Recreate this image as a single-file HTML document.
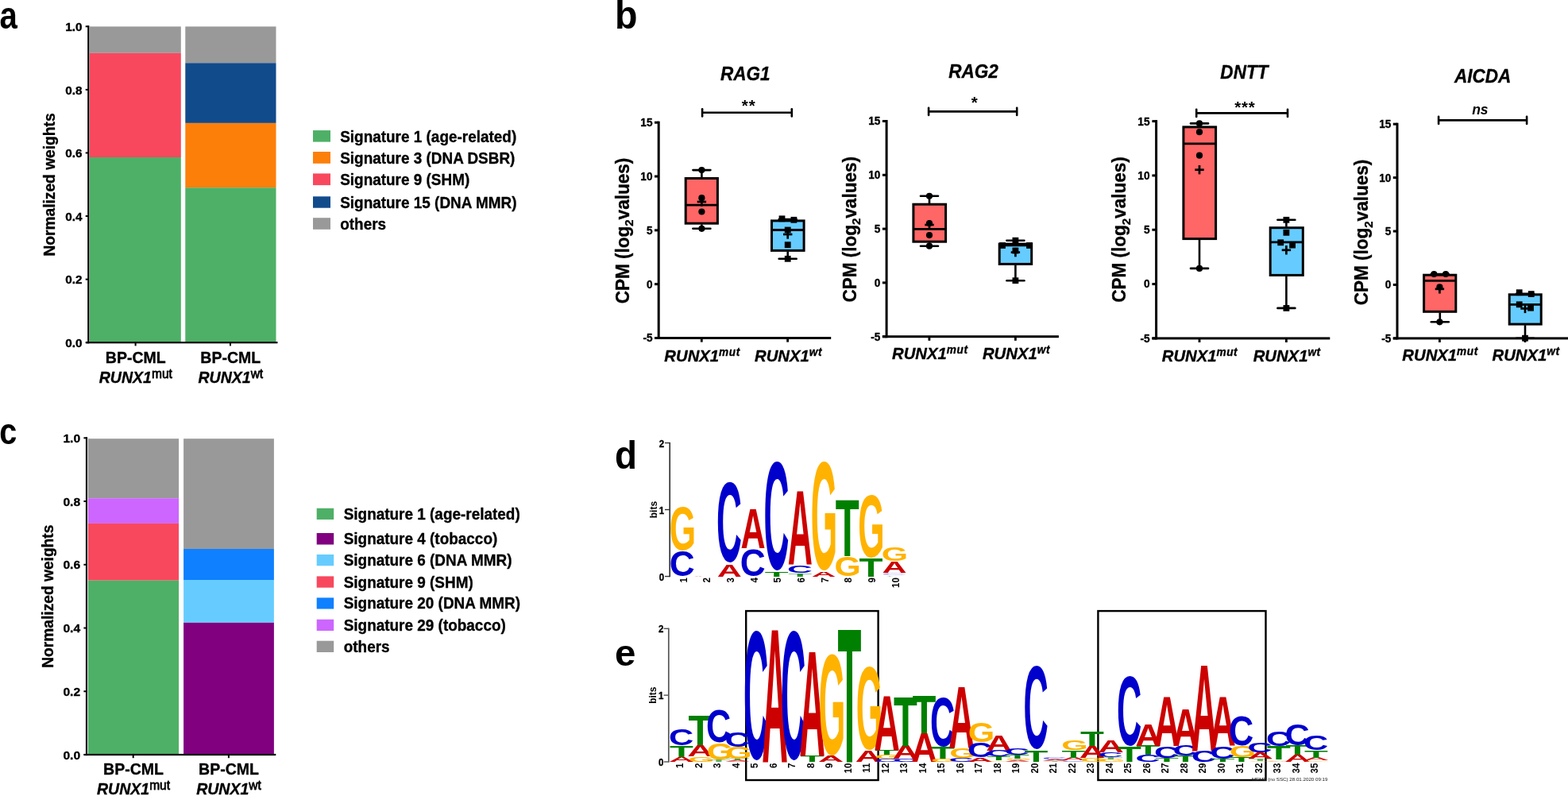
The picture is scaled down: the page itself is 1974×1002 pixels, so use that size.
<!DOCTYPE html>
<html lang="en"><head><meta charset="utf-8"><title>Figure</title>
<style>
html,body{margin:0;padding:0;background:#fff;}
body{width:1974px;height:1002px;overflow:hidden;}
svg{display:block;position:absolute;left:0;top:0;}
text{font-family:"Liberation Sans",sans-serif;}
text.t{stroke:#000;stroke-width:0.35px;stroke-linejoin:round;}
</style></head><body>
<svg width="1974" height="1002" viewBox="0 0 1974 1002">
<rect x="112.9" y="33.4" width="114.9" height="33.4" fill="#999999"/>
<rect x="112.9" y="66.8" width="114.9" height="131.2" fill="#f8485e"/>
<rect x="112.9" y="198" width="114.9" height="232.4" fill="#4eb066"/>
<rect x="233.3" y="33.4" width="114.2" height="45.9" fill="#999999"/>
<rect x="233.3" y="79.3" width="114.2" height="75.6" fill="#114b8c"/>
<rect x="233.3" y="154.9" width="114.2" height="81.3" fill="#fc7f0a"/>
<rect x="233.3" y="236.2" width="114.2" height="194.2" fill="#4eb066"/>
<rect x="110.2" y="32.2" width="2.2" height="400.1" fill="#000"/>
<rect x="108" y="430.1" width="241.5" height="2.2" fill="#000"/>
<rect x="107.7" y="430.2" width="3.6" height="2" fill="#000"/>
<text class="t" transform="translate(103.5 436.9) scale(1.04 1)" font-size="14.71" text-anchor="end" font-weight="bold" font-style="normal" fill="#000">0.0</text>
<rect x="107.7" y="350.62" width="3.6" height="2" fill="#000"/>
<text class="t" transform="translate(103.5 357.32) scale(1.04 1)" font-size="14.71" text-anchor="end" font-weight="bold" font-style="normal" fill="#000">0.2</text>
<rect x="107.7" y="271.04" width="3.6" height="2" fill="#000"/>
<text class="t" transform="translate(103.5 277.74) scale(1.04 1)" font-size="14.71" text-anchor="end" font-weight="bold" font-style="normal" fill="#000">0.4</text>
<rect x="107.7" y="191.46" width="3.6" height="2" fill="#000"/>
<text class="t" transform="translate(103.5 198.16) scale(1.04 1)" font-size="14.71" text-anchor="end" font-weight="bold" font-style="normal" fill="#000">0.6</text>
<rect x="107.7" y="111.88" width="3.6" height="2" fill="#000"/>
<text class="t" transform="translate(103.5 118.58) scale(1.04 1)" font-size="14.71" text-anchor="end" font-weight="bold" font-style="normal" fill="#000">0.8</text>
<rect x="107.7" y="32.3" width="3.6" height="2" fill="#000"/>
<text class="t" transform="translate(103.5 39) scale(1.04 1)" font-size="14.71" text-anchor="end" font-weight="bold" font-style="normal" fill="#000">1.0</text>
<rect x="169.6" y="431.2" width="2" height="4.2" fill="#000"/>
<rect x="289" y="431.2" width="2" height="4.2" fill="#000"/>
<text class="t" transform="translate(170.8 456.75) scale(0.95 1)" font-size="20.57" text-anchor="middle" font-weight="bold" font-style="normal" fill="#000">BP-CML</text>
<text class="t" transform="translate(170.8 482.35) scale(0.95 1)" font-size="20.57" text-anchor="middle" font-weight="bold"><tspan font-style="italic">RUNX1</tspan><tspan font-size="16.35" dy="-6" font-weight="normal" stroke-width="0.75">mut</tspan></text>
<text class="t" transform="translate(290.3 456.75) scale(0.95 1)" font-size="20.57" text-anchor="middle" font-weight="bold" font-style="normal" fill="#000">BP-CML</text>
<text class="t" transform="translate(290.3 482.35) scale(0.95 1)" font-size="20.57" text-anchor="middle" font-weight="bold"><tspan font-style="italic">RUNX1</tspan><tspan font-size="16.35" dy="-6" font-weight="normal" stroke-width="0.75">wt</tspan></text>
<text transform="translate(69.1 232.5) rotate(-90) scale(0.96 1)" font-size="20" text-anchor="middle" font-weight="bold" class="t">Normalized weights</text>
<rect x="394" y="164.1" width="22" height="14.5" fill="#4eb066"/>
<text class="t" transform="translate(428.2 178.5) scale(0.95 1)" font-size="19.94" text-anchor="start" font-weight="bold" font-style="normal" fill="#000">Signature 1 (age-related)</text>
<rect x="394" y="191" width="22" height="14.8" fill="#fc7f0a"/>
<text class="t" transform="translate(428.2 205.6) scale(0.95 1)" font-size="19.94" text-anchor="start" font-weight="bold" font-style="normal" fill="#000">Signature 3 (DNA DSBR)</text>
<rect x="394" y="218.4" width="22" height="14.7" fill="#f8485e"/>
<text class="t" transform="translate(428.2 232.8) scale(0.95 1)" font-size="19.94" text-anchor="start" font-weight="bold" font-style="normal" fill="#000">Signature 9 (SHM)</text>
<rect x="394" y="247.3" width="22" height="14.4" fill="#114b8c"/>
<text class="t" transform="translate(428.2 261.5) scale(0.95 1)" font-size="19.94" text-anchor="start" font-weight="bold" font-style="normal" fill="#000">Signature 15 (DNA MMR)</text>
<rect x="394" y="274.2" width="22" height="14.6" fill="#999999"/>
<text class="t" transform="translate(428.2 288.6) scale(0.95 1)" font-size="19.94" text-anchor="start" font-weight="bold" font-style="normal" fill="#000">others</text>
<rect x="111" y="552.2" width="114.1" height="75" fill="#999999"/>
<rect x="111" y="627.2" width="114.1" height="31.7" fill="#cc66ff"/>
<rect x="111" y="658.9" width="114.1" height="71.8" fill="#f8485e"/>
<rect x="111" y="730.7" width="114.1" height="218.6" fill="#4eb066"/>
<rect x="231.1" y="552.2" width="113.8" height="138.8" fill="#999999"/>
<rect x="231.1" y="691" width="113.8" height="39" fill="#0f80ff"/>
<rect x="231.1" y="730" width="113.8" height="53.8" fill="#66ccff"/>
<rect x="231.1" y="783.8" width="113.8" height="165.5" fill="#800080"/>
<rect x="107.9" y="550.2" width="2.2" height="400.9" fill="#000"/>
<rect x="105.7" y="948.9" width="241.6" height="2.2" fill="#000"/>
<rect x="105.4" y="949" width="3.6" height="2" fill="#000"/>
<text class="t" transform="translate(101.1 955.7) scale(1.04 1)" font-size="15" text-anchor="end" font-weight="bold" font-style="normal" fill="#000">0.0</text>
<rect x="105.4" y="869.26" width="3.6" height="2" fill="#000"/>
<text class="t" transform="translate(101.1 875.96) scale(1.04 1)" font-size="15" text-anchor="end" font-weight="bold" font-style="normal" fill="#000">0.2</text>
<rect x="105.4" y="789.52" width="3.6" height="2" fill="#000"/>
<text class="t" transform="translate(101.1 796.22) scale(1.04 1)" font-size="15" text-anchor="end" font-weight="bold" font-style="normal" fill="#000">0.4</text>
<rect x="105.4" y="709.78" width="3.6" height="2" fill="#000"/>
<text class="t" transform="translate(101.1 716.48) scale(1.04 1)" font-size="15" text-anchor="end" font-weight="bold" font-style="normal" fill="#000">0.6</text>
<rect x="105.4" y="630.04" width="3.6" height="2" fill="#000"/>
<text class="t" transform="translate(101.1 636.74) scale(1.04 1)" font-size="15" text-anchor="end" font-weight="bold" font-style="normal" fill="#000">0.8</text>
<rect x="105.4" y="550.3" width="3.6" height="2" fill="#000"/>
<text class="t" transform="translate(101.1 557) scale(1.04 1)" font-size="15" text-anchor="end" font-weight="bold" font-style="normal" fill="#000">1.0</text>
<rect x="166.7" y="950" width="2" height="4.2" fill="#000"/>
<rect x="286.9" y="950" width="2" height="4.2" fill="#000"/>
<text class="t" transform="translate(168 974.85) scale(0.95 1)" font-size="20.57" text-anchor="middle" font-weight="bold" font-style="normal" fill="#000">BP-CML</text>
<text class="t" transform="translate(168 1000.25) scale(0.95 1)" font-size="20.57" text-anchor="middle" font-weight="bold"><tspan font-style="italic">RUNX1</tspan><tspan font-size="16.35" dy="-6" font-weight="normal" stroke-width="0.75">mut</tspan></text>
<text class="t" transform="translate(288 974.85) scale(0.95 1)" font-size="20.57" text-anchor="middle" font-weight="bold" font-style="normal" fill="#000">BP-CML</text>
<text class="t" transform="translate(288 1000.25) scale(0.95 1)" font-size="20.57" text-anchor="middle" font-weight="bold"><tspan font-style="italic">RUNX1</tspan><tspan font-size="16.35" dy="-6" font-weight="normal" stroke-width="0.75">wt</tspan></text>
<text transform="translate(67.4 750.7) rotate(-90) scale(0.96 1)" font-size="20" text-anchor="middle" font-weight="bold" class="t">Normalized weights</text>
<rect x="398.7" y="639.8" width="21.5" height="14.2" fill="#4eb066"/>
<text class="t" transform="translate(432.7 653.8) scale(0.95 1)" font-size="19.94" text-anchor="start" font-weight="bold" font-style="normal" fill="#000">Signature 1 (age-related)</text>
<rect x="398.7" y="671" width="21.5" height="14.5" fill="#800080"/>
<text class="t" transform="translate(432.7 685.3) scale(0.95 1)" font-size="19.94" text-anchor="start" font-weight="bold" font-style="normal" fill="#000">Signature 4 (tobacco)</text>
<rect x="398.7" y="698" width="21.5" height="14.2" fill="#66ccff"/>
<text class="t" transform="translate(432.7 712) scale(0.95 1)" font-size="19.94" text-anchor="start" font-weight="bold" font-style="normal" fill="#000">Signature 6 (DNA MMR)</text>
<rect x="398.7" y="725.4" width="21.5" height="14.3" fill="#f8485e"/>
<text class="t" transform="translate(432.7 739.5) scale(0.95 1)" font-size="19.94" text-anchor="start" font-weight="bold" font-style="normal" fill="#000">Signature 9 (SHM)</text>
<rect x="398.7" y="752.4" width="21.5" height="14.1" fill="#0f80ff"/>
<text class="t" transform="translate(432.7 766.3) scale(0.95 1)" font-size="19.94" text-anchor="start" font-weight="bold" font-style="normal" fill="#000">Signature 20 (DNA MMR)</text>
<rect x="398.7" y="779.7" width="21.5" height="14.3" fill="#cc66ff"/>
<text class="t" transform="translate(432.7 793.8) scale(0.95 1)" font-size="19.94" text-anchor="start" font-weight="bold" font-style="normal" fill="#000">Signature 29 (tobacco)</text>
<rect x="398.7" y="806.7" width="21.5" height="14.3" fill="#999999"/>
<text class="t" transform="translate(432.7 820.8) scale(0.95 1)" font-size="19.94" text-anchor="start" font-weight="bold" font-style="normal" fill="#000">others</text>
<line x1="883.4" y1="214.1" x2="883.4" y2="223.4" stroke="#000" stroke-width="2.6" stroke-linecap="butt"/>
<line x1="883.4" y1="282.3" x2="883.4" y2="287.8" stroke="#000" stroke-width="2.6" stroke-linecap="butt"/>
<line x1="872.4" y1="214.1" x2="894.4" y2="214.1" stroke="#000" stroke-width="2.6" stroke-linecap="round"/>
<line x1="872.4" y1="287.8" x2="894.4" y2="287.8" stroke="#000" stroke-width="2.6" stroke-linecap="round"/>
<rect x="863.2" y="224.5" width="40.2" height="56.7" fill="#ff6666" stroke="#000" stroke-width="3"/>
<line x1="863.1" y1="258.1" x2="903.5" y2="258.1" stroke="#000" stroke-width="2.8" stroke-linecap="butt"/>
<circle cx="883.4" cy="214.1" r="4.1" fill="#000"/>
<circle cx="883.4" cy="249.2" r="4.1" fill="#000"/>
<circle cx="883.4" cy="266.5" r="4.1" fill="#000"/>
<circle cx="883.4" cy="287.8" r="4.1" fill="#000"/>
<rect x="877.7" y="252.65" width="11.4" height="2.7" fill="#000"/>
<rect x="882.05" y="248.3" width="2.7" height="11.4" fill="#000"/>
<line x1="991.7" y1="276" x2="991.7" y2="276.8" stroke="#000" stroke-width="2.6" stroke-linecap="butt"/>
<line x1="991.7" y1="316.5" x2="991.7" y2="325.8" stroke="#000" stroke-width="2.6" stroke-linecap="butt"/>
<line x1="980.7" y1="276" x2="1002.7" y2="276" stroke="#000" stroke-width="2.6" stroke-linecap="round"/>
<line x1="980.7" y1="325.8" x2="1002.7" y2="325.8" stroke="#000" stroke-width="2.6" stroke-linecap="round"/>
<rect x="971.5" y="277.9" width="40.6" height="37.5" fill="#66ccff" stroke="#000" stroke-width="3"/>
<line x1="971.4" y1="289.5" x2="1012.2" y2="289.5" stroke="#000" stroke-width="2.8" stroke-linecap="butt"/>
<rect x="980.6" y="271.4" width="7.8" height="7.8" fill="#000"/>
<rect x="995.5" y="272.9" width="7.8" height="7.8" fill="#000"/>
<rect x="987.8" y="285.6" width="7.8" height="7.8" fill="#000"/>
<rect x="987.8" y="304.3" width="7.8" height="7.8" fill="#000"/>
<rect x="987.8" y="321.9" width="7.8" height="7.8" fill="#000"/>
<rect x="986" y="293.65" width="11.4" height="2.7" fill="#000"/>
<rect x="990.35" y="289.3" width="2.7" height="11.4" fill="#000"/>
<rect x="827.7" y="152.7" width="3" height="274.3" fill="#000"/>
<rect x="824" y="424" width="222.2" height="3" fill="#000"/>
<rect x="824" y="424" width="5.2" height="3" fill="#000"/>
<text class="t" transform="translate(821.5 430.4) scale(0.95 1)" font-size="14.35" text-anchor="end" font-weight="bold" font-style="normal" fill="#000">-5</text>
<rect x="824" y="356.18" width="5.2" height="3" fill="#000"/>
<text class="t" transform="translate(821.5 362.57) scale(0.95 1)" font-size="14.35" text-anchor="end" font-weight="bold" font-style="normal" fill="#000">0</text>
<rect x="824" y="288.35" width="5.2" height="3" fill="#000"/>
<text class="t" transform="translate(821.5 294.75) scale(0.95 1)" font-size="14.35" text-anchor="end" font-weight="bold" font-style="normal" fill="#000">5</text>
<rect x="824" y="220.52" width="5.2" height="3" fill="#000"/>
<text class="t" transform="translate(821.5 226.92) scale(0.95 1)" font-size="14.35" text-anchor="end" font-weight="bold" font-style="normal" fill="#000">10</text>
<rect x="824" y="152.7" width="5.2" height="3" fill="#000"/>
<text class="t" transform="translate(821.5 159.1) scale(0.95 1)" font-size="14.35" text-anchor="end" font-weight="bold" font-style="normal" fill="#000">15</text>
<rect x="881.9" y="425.5" width="2.8" height="5.1" fill="#000"/>
<rect x="990.2" y="425.5" width="2.8" height="5.1" fill="#000"/>
<text class="t" transform="translate(884.1 454.85) scale(0.97 1)" font-size="20.92" text-anchor="middle" font-weight="bold" font-style="italic">RUNX1<tspan font-size="14.06" dy="-6.8" letter-spacing="0.6">mut</tspan></text>
<text class="t" transform="translate(992.6 454.85) scale(0.97 1)" font-size="20.92" text-anchor="middle" font-weight="bold" font-style="italic">RUNX1<tspan font-size="14.06" dy="-6.8" letter-spacing="0.6">wt</tspan></text>
<text class="t" transform="translate(791.7 290.5) rotate(-90) scale(0.96 1)" font-size="23.5" text-anchor="middle" font-weight="bold">CPM (log<tspan font-size="15.5" dy="5.5">2</tspan><tspan dy="-5.5">values)</tspan></text>
<text class="t" transform="translate(938.2 100.9) scale(0.95 1)" font-size="23.73" text-anchor="middle" font-weight="bold" font-style="italic" fill="#000">RAG1</text>
<line x1="884.1" y1="141.8" x2="996.8" y2="141.8" stroke="#000" stroke-width="2.6" stroke-linecap="butt"/>
<line x1="884.1" y1="137.2" x2="884.1" y2="146.4" stroke="#000" stroke-width="2.6" stroke-linecap="round"/>
<line x1="996.8" y1="137.2" x2="996.8" y2="146.4" stroke="#000" stroke-width="2.6" stroke-linecap="round"/>
<text x="942.65" y="139.6" font-size="20.5" text-anchor="middle" font-weight="bold" font-style="normal" fill="#000" letter-spacing="0.8">**</text>
<line x1="1170" y1="246.8" x2="1170" y2="256.1" stroke="#000" stroke-width="2.6" stroke-linecap="butt"/>
<line x1="1170" y1="305.3" x2="1170" y2="309.7" stroke="#000" stroke-width="2.6" stroke-linecap="butt"/>
<line x1="1159" y1="246.8" x2="1181" y2="246.8" stroke="#000" stroke-width="2.6" stroke-linecap="round"/>
<line x1="1159" y1="309.7" x2="1181" y2="309.7" stroke="#000" stroke-width="2.6" stroke-linecap="round"/>
<rect x="1149.9" y="257.2" width="40.7" height="47" fill="#ff6666" stroke="#000" stroke-width="3"/>
<line x1="1149.8" y1="288.4" x2="1190.7" y2="288.4" stroke="#000" stroke-width="2.8" stroke-linecap="butt"/>
<circle cx="1170" cy="246.8" r="4.1" fill="#000"/>
<circle cx="1170" cy="281" r="4.1" fill="#000"/>
<circle cx="1170" cy="296.1" r="4.1" fill="#000"/>
<circle cx="1170" cy="309.7" r="4.1" fill="#000"/>
<rect x="1164.3" y="281.65" width="11.4" height="2.7" fill="#000"/>
<rect x="1168.65" y="277.3" width="2.7" height="11.4" fill="#000"/>
<line x1="1278.4" y1="302.7" x2="1278.4" y2="306" stroke="#000" stroke-width="2.6" stroke-linecap="butt"/>
<line x1="1278.4" y1="333.5" x2="1278.4" y2="353.2" stroke="#000" stroke-width="2.6" stroke-linecap="butt"/>
<line x1="1267.4" y1="302.7" x2="1289.4" y2="302.7" stroke="#000" stroke-width="2.6" stroke-linecap="round"/>
<line x1="1267.4" y1="353.2" x2="1289.4" y2="353.2" stroke="#000" stroke-width="2.6" stroke-linecap="round"/>
<rect x="1258.2" y="307.1" width="40.5" height="25.3" fill="#66ccff" stroke="#000" stroke-width="3"/>
<line x1="1258.1" y1="308.9" x2="1298.8" y2="308.9" stroke="#000" stroke-width="2.8" stroke-linecap="butt"/>
<rect x="1274.5" y="298.8" width="7.8" height="7.8" fill="#000"/>
<rect x="1258.1" y="305.1" width="7.8" height="7.8" fill="#000"/>
<rect x="1292.1" y="305.1" width="7.8" height="7.8" fill="#000"/>
<rect x="1274.5" y="311.6" width="7.8" height="7.8" fill="#000"/>
<rect x="1274.5" y="349.3" width="7.8" height="7.8" fill="#000"/>
<rect x="1272.7" y="316.25" width="11.4" height="2.7" fill="#000"/>
<rect x="1277.05" y="311.9" width="2.7" height="11.4" fill="#000"/>
<rect x="1114.6" y="151" width="3" height="274.2" fill="#000"/>
<rect x="1110.9" y="422.2" width="222" height="3" fill="#000"/>
<rect x="1110.9" y="422.2" width="5.2" height="3" fill="#000"/>
<text class="t" transform="translate(1108.4 428.6) scale(0.95 1)" font-size="14.35" text-anchor="end" font-weight="bold" font-style="normal" fill="#000">-5</text>
<rect x="1110.9" y="354.4" width="5.2" height="3" fill="#000"/>
<text class="t" transform="translate(1108.4 360.8) scale(0.95 1)" font-size="14.35" text-anchor="end" font-weight="bold" font-style="normal" fill="#000">0</text>
<rect x="1110.9" y="286.6" width="5.2" height="3" fill="#000"/>
<text class="t" transform="translate(1108.4 293) scale(0.95 1)" font-size="14.35" text-anchor="end" font-weight="bold" font-style="normal" fill="#000">5</text>
<rect x="1110.9" y="218.8" width="5.2" height="3" fill="#000"/>
<text class="t" transform="translate(1108.4 225.2) scale(0.95 1)" font-size="14.35" text-anchor="end" font-weight="bold" font-style="normal" fill="#000">10</text>
<rect x="1110.9" y="151" width="5.2" height="3" fill="#000"/>
<text class="t" transform="translate(1108.4 157.4) scale(0.95 1)" font-size="14.35" text-anchor="end" font-weight="bold" font-style="normal" fill="#000">15</text>
<rect x="1168.5" y="423.7" width="2.8" height="5.1" fill="#000"/>
<rect x="1277" y="423.7" width="2.8" height="5.1" fill="#000"/>
<text class="t" transform="translate(1170.8 452.15) scale(0.97 1)" font-size="20.92" text-anchor="middle" font-weight="bold" font-style="italic">RUNX1<tspan font-size="14.06" dy="-6.8" letter-spacing="0.6">mut</tspan></text>
<text class="t" transform="translate(1279.5 452.15) scale(0.97 1)" font-size="20.92" text-anchor="middle" font-weight="bold" font-style="italic">RUNX1<tspan font-size="14.06" dy="-6.8" letter-spacing="0.6">wt</tspan></text>
<text class="t" transform="translate(1077.9 288.8) rotate(-90) scale(0.96 1)" font-size="23.5" text-anchor="middle" font-weight="bold">CPM (log<tspan font-size="15.5" dy="5.5">2</tspan><tspan dy="-5.5">values)</tspan></text>
<text class="t" transform="translate(1225.6 98.3) scale(0.95 1)" font-size="23.73" text-anchor="middle" font-weight="bold" font-style="italic" fill="#000">RAG2</text>
<line x1="1169.1" y1="140.4" x2="1280.2" y2="140.4" stroke="#000" stroke-width="2.6" stroke-linecap="butt"/>
<line x1="1169.1" y1="135.8" x2="1169.1" y2="145" stroke="#000" stroke-width="2.6" stroke-linecap="round"/>
<line x1="1280.2" y1="135.8" x2="1280.2" y2="145" stroke="#000" stroke-width="2.6" stroke-linecap="round"/>
<text x="1227.05" y="135.5" font-size="20.5" text-anchor="middle" font-weight="bold" font-style="normal" fill="#000" letter-spacing="0.8">*</text>
<line x1="1510" y1="155.4" x2="1510" y2="158.8" stroke="#000" stroke-width="2.6" stroke-linecap="butt"/>
<line x1="1510" y1="301.7" x2="1510" y2="337.9" stroke="#000" stroke-width="2.6" stroke-linecap="butt"/>
<line x1="1499" y1="155.4" x2="1521" y2="155.4" stroke="#000" stroke-width="2.6" stroke-linecap="round"/>
<line x1="1499" y1="337.9" x2="1521" y2="337.9" stroke="#000" stroke-width="2.6" stroke-linecap="round"/>
<rect x="1489.9" y="159.9" width="40.7" height="140.7" fill="#ff6666" stroke="#000" stroke-width="3"/>
<line x1="1489.8" y1="180.8" x2="1530.7" y2="180.8" stroke="#000" stroke-width="2.8" stroke-linecap="butt"/>
<circle cx="1510" cy="155.4" r="4.1" fill="#000"/>
<circle cx="1510" cy="166.2" r="4.1" fill="#000"/>
<circle cx="1510" cy="195.7" r="4.1" fill="#000"/>
<circle cx="1510" cy="337.9" r="4.1" fill="#000"/>
<rect x="1504.3" y="212.35" width="11.4" height="2.7" fill="#000"/>
<rect x="1508.65" y="208" width="2.7" height="11.4" fill="#000"/>
<line x1="1619.4" y1="276.8" x2="1619.4" y2="285.6" stroke="#000" stroke-width="2.6" stroke-linecap="butt"/>
<line x1="1619.4" y1="347.5" x2="1619.4" y2="387.9" stroke="#000" stroke-width="2.6" stroke-linecap="butt"/>
<line x1="1608.4" y1="276.8" x2="1630.4" y2="276.8" stroke="#000" stroke-width="2.6" stroke-linecap="round"/>
<line x1="1608.4" y1="387.9" x2="1630.4" y2="387.9" stroke="#000" stroke-width="2.6" stroke-linecap="round"/>
<rect x="1599.2" y="286.7" width="41.1" height="59.7" fill="#66ccff" stroke="#000" stroke-width="3"/>
<line x1="1599.1" y1="304.9" x2="1640.4" y2="304.9" stroke="#000" stroke-width="2.8" stroke-linecap="butt"/>
<rect x="1615.5" y="272.9" width="7.8" height="7.8" fill="#000"/>
<rect x="1615.5" y="288.9" width="7.8" height="7.8" fill="#000"/>
<rect x="1608.3" y="301.4" width="7.8" height="7.8" fill="#000"/>
<rect x="1623.2" y="304.7" width="7.8" height="7.8" fill="#000"/>
<rect x="1615.5" y="384" width="7.8" height="7.8" fill="#000"/>
<rect x="1613.7" y="313.45" width="11.4" height="2.7" fill="#000"/>
<rect x="1618.05" y="309.1" width="2.7" height="11.4" fill="#000"/>
<rect x="1454.1" y="151.1" width="3" height="276.3" fill="#000"/>
<rect x="1450.4" y="424.4" width="223.9" height="3" fill="#000"/>
<rect x="1450.4" y="424.4" width="5.2" height="3" fill="#000"/>
<text class="t" transform="translate(1447.5 430.8) scale(0.95 1)" font-size="14.35" text-anchor="end" font-weight="bold" font-style="normal" fill="#000">-5</text>
<rect x="1450.4" y="356.07" width="5.2" height="3" fill="#000"/>
<text class="t" transform="translate(1447.5 362.47) scale(0.95 1)" font-size="14.35" text-anchor="end" font-weight="bold" font-style="normal" fill="#000">0</text>
<rect x="1450.4" y="287.75" width="5.2" height="3" fill="#000"/>
<text class="t" transform="translate(1447.5 294.15) scale(0.95 1)" font-size="14.35" text-anchor="end" font-weight="bold" font-style="normal" fill="#000">5</text>
<rect x="1450.4" y="219.43" width="5.2" height="3" fill="#000"/>
<text class="t" transform="translate(1447.5 225.83) scale(0.95 1)" font-size="14.35" text-anchor="end" font-weight="bold" font-style="normal" fill="#000">10</text>
<rect x="1450.4" y="151.1" width="5.2" height="3" fill="#000"/>
<text class="t" transform="translate(1447.5 157.5) scale(0.95 1)" font-size="14.35" text-anchor="end" font-weight="bold" font-style="normal" fill="#000">15</text>
<rect x="1508.6" y="425.9" width="2.8" height="5.1" fill="#000"/>
<rect x="1618" y="425.9" width="2.8" height="5.1" fill="#000"/>
<text class="t" transform="translate(1510.5 455.15) scale(0.97 1)" font-size="20.92" text-anchor="middle" font-weight="bold" font-style="italic">RUNX1<tspan font-size="14.06" dy="-6.8" letter-spacing="0.6">mut</tspan></text>
<text class="t" transform="translate(1620.2 455.15) scale(0.97 1)" font-size="20.92" text-anchor="middle" font-weight="bold" font-style="italic">RUNX1<tspan font-size="14.06" dy="-6.8" letter-spacing="0.6">wt</tspan></text>
<text class="t" transform="translate(1417.2 289) rotate(-90) scale(0.96 1)" font-size="23.5" text-anchor="middle" font-weight="bold">CPM (log<tspan font-size="15.5" dy="5.5">2</tspan><tspan dy="-5.5">values)</tspan></text>
<text class="t" transform="translate(1566.4 98.9) scale(0.95 1)" font-size="23.73" text-anchor="middle" font-weight="bold" font-style="italic" fill="#000">DNTT</text>
<line x1="1506.2" y1="142.4" x2="1621" y2="142.4" stroke="#000" stroke-width="2.6" stroke-linecap="butt"/>
<line x1="1506.2" y1="137.8" x2="1506.2" y2="147" stroke="#000" stroke-width="2.6" stroke-linecap="round"/>
<line x1="1621" y1="137.8" x2="1621" y2="147" stroke="#000" stroke-width="2.6" stroke-linecap="round"/>
<text x="1567.3" y="142.2" font-size="20.5" text-anchor="middle" font-weight="bold" font-style="normal" fill="#000" letter-spacing="0.8">***</text>
<line x1="1812.8" y1="345.1" x2="1812.8" y2="345.1" stroke="#000" stroke-width="2.6" stroke-linecap="butt"/>
<line x1="1812.8" y1="393.4" x2="1812.8" y2="405.3" stroke="#000" stroke-width="2.6" stroke-linecap="butt"/>
<line x1="1801.8" y1="345.1" x2="1823.8" y2="345.1" stroke="#000" stroke-width="2.6" stroke-linecap="round"/>
<line x1="1801.8" y1="405.3" x2="1823.8" y2="405.3" stroke="#000" stroke-width="2.6" stroke-linecap="round"/>
<rect x="1792.6" y="346.2" width="40.2" height="46.1" fill="#ff6666" stroke="#000" stroke-width="3"/>
<line x1="1792.5" y1="353.4" x2="1832.9" y2="353.4" stroke="#000" stroke-width="2.8" stroke-linecap="butt"/>
<circle cx="1805.3" cy="345" r="4.1" fill="#000"/>
<circle cx="1820.1" cy="345" r="4.1" fill="#000"/>
<circle cx="1812.4" cy="361.4" r="4.1" fill="#000"/>
<circle cx="1812.4" cy="405.3" r="4.1" fill="#000"/>
<rect x="1806.7" y="362.45" width="11.4" height="2.7" fill="#000"/>
<rect x="1811.05" y="358.1" width="2.7" height="11.4" fill="#000"/>
<line x1="1920" y1="369.7" x2="1920" y2="369.7" stroke="#000" stroke-width="2.6" stroke-linecap="butt"/>
<line x1="1920" y1="409.2" x2="1920" y2="425.7" stroke="#000" stroke-width="2.6" stroke-linecap="butt"/>
<line x1="1909" y1="369.7" x2="1931" y2="369.7" stroke="#000" stroke-width="2.6" stroke-linecap="round"/>
<line x1="1909" y1="425.7" x2="1931" y2="425.7" stroke="#000" stroke-width="2.6" stroke-linecap="round"/>
<rect x="1900.2" y="370.8" width="40" height="37.3" fill="#66ccff" stroke="#000" stroke-width="3"/>
<line x1="1900.1" y1="383.3" x2="1940.3" y2="383.3" stroke="#000" stroke-width="2.8" stroke-linecap="butt"/>
<rect x="1908.8" y="364.3" width="7.8" height="7.8" fill="#000"/>
<rect x="1923.8" y="366.2" width="7.8" height="7.8" fill="#000"/>
<rect x="1908.8" y="379.4" width="7.8" height="7.8" fill="#000"/>
<rect x="1923.1" y="383.8" width="7.8" height="7.8" fill="#000"/>
<rect x="1916.1" y="421.8" width="7.8" height="7.8" fill="#000"/>
<rect x="1914.3" y="387.05" width="11.4" height="2.7" fill="#000"/>
<rect x="1918.65" y="382.7" width="2.7" height="11.4" fill="#000"/>
<rect x="1757.5" y="154.7" width="3" height="272.7" fill="#000"/>
<rect x="1753.8" y="424.4" width="220.2" height="3" fill="#000"/>
<rect x="1753.8" y="424.4" width="5.2" height="3" fill="#000"/>
<text class="t" transform="translate(1751.3 430.8) scale(0.95 1)" font-size="14.35" text-anchor="end" font-weight="bold" font-style="normal" fill="#000">-5</text>
<rect x="1753.8" y="356.97" width="5.2" height="3" fill="#000"/>
<text class="t" transform="translate(1751.3 363.37) scale(0.95 1)" font-size="14.35" text-anchor="end" font-weight="bold" font-style="normal" fill="#000">0</text>
<rect x="1753.8" y="289.55" width="5.2" height="3" fill="#000"/>
<text class="t" transform="translate(1751.3 295.95) scale(0.95 1)" font-size="14.35" text-anchor="end" font-weight="bold" font-style="normal" fill="#000">5</text>
<rect x="1753.8" y="222.12" width="5.2" height="3" fill="#000"/>
<text class="t" transform="translate(1751.3 228.53) scale(0.95 1)" font-size="14.35" text-anchor="end" font-weight="bold" font-style="normal" fill="#000">10</text>
<rect x="1753.8" y="154.7" width="5.2" height="3" fill="#000"/>
<text class="t" transform="translate(1751.3 161.1) scale(0.95 1)" font-size="14.35" text-anchor="end" font-weight="bold" font-style="normal" fill="#000">15</text>
<rect x="1811" y="425.9" width="2.8" height="5.1" fill="#000"/>
<rect x="1918.6" y="425.9" width="2.8" height="5.1" fill="#000"/>
<text class="t" transform="translate(1813.1 454.25) scale(0.97 1)" font-size="20.92" text-anchor="middle" font-weight="bold" font-style="italic">RUNX1<tspan font-size="14.06" dy="-6.8" letter-spacing="0.6">mut</tspan></text>
<text class="t" transform="translate(1921.1 454.25) scale(0.97 1)" font-size="20.92" text-anchor="middle" font-weight="bold" font-style="italic">RUNX1<tspan font-size="14.06" dy="-6.8" letter-spacing="0.6">wt</tspan></text>
<text class="t" transform="translate(1722.1 292.5) rotate(-90) scale(0.96 1)" font-size="23.5" text-anchor="middle" font-weight="bold">CPM (log<tspan font-size="15.5" dy="5.5">2</tspan><tspan dy="-5.5">values)</tspan></text>
<text class="t" transform="translate(1866.6 104.3) scale(0.95 1)" font-size="23.73" text-anchor="middle" font-weight="bold" font-style="italic" fill="#000">AICDA</text>
<line x1="1811.1" y1="151.4" x2="1922.1" y2="151.4" stroke="#000" stroke-width="2.6" stroke-linecap="butt"/>
<line x1="1811.1" y1="146.8" x2="1811.1" y2="156" stroke="#000" stroke-width="2.6" stroke-linecap="round"/>
<line x1="1922.1" y1="146.8" x2="1922.1" y2="156" stroke="#000" stroke-width="2.6" stroke-linecap="round"/>
<text x="1863.4" y="144.2" font-size="17.5" text-anchor="middle" font-weight="bold" font-style="italic" fill="#000">ns</text>
<text transform="matrix(0.4420 0 0 0.4392 842.69 724.87)" font-size="100" font-weight="bold" fill="#0000cc">C</text>
<text transform="matrix(0.4283 0 0 0.7835 842.74 692.29)" font-size="100" font-weight="bold" fill="#ffb300">G</text>
<text transform="matrix(0.1292 0 0 0.0100 874.47 725.55)" font-size="100" font-weight="bold" fill="#cc0000" opacity="0.50">A</text>
<text transform="matrix(0.4308 0 0 0.2235 902.79 725.55)" font-size="100" font-weight="bold" fill="#cc0000">A</text>
<text transform="matrix(0.4420 0 0 1.4343 902.05 707.35)" font-size="100" font-weight="bold" fill="#0000cc">C</text>
<text transform="matrix(0.4420 0 0 0.4873 931.73 724.79)" font-size="100" font-weight="bold" fill="#0000cc">C</text>
<text transform="matrix(0.4308 0 0 0.7035 932.47 690.06)" font-size="100" font-weight="bold" fill="#cc0000">A</text>
<text transform="matrix(0.4908 0 0 0.0901 962.67 725.55)" font-size="100" font-weight="bold" fill="#008000">T</text>
<text transform="matrix(0.4420 0 0 1.9249 961.41 715.77)" font-size="100" font-weight="bold" fill="#0000cc">C</text>
<text transform="matrix(0.4908 0 0 0.0567 992.35 725.55)" font-size="100" font-weight="bold" fill="#008000" opacity="0.85">T</text>
<text transform="matrix(0.4420 0 0 0.1359 991.09 720.84)" font-size="100" font-weight="bold" fill="#0000cc">C</text>
<text transform="matrix(0.4308 0 0 1.3424 991.83 710.72)" font-size="100" font-weight="bold" fill="#cc0000">A</text>
<text transform="matrix(0.4308 0 0 0.0901 1021.51 725.55)" font-size="100" font-weight="bold" fill="#cc0000">A</text>
<text transform="matrix(0.4283 0 0 1.9249 1020.82 715.77)" font-size="100" font-weight="bold" fill="#ffb300">G</text>
<text transform="matrix(0.4283 0 0 0.3430 1050.50 725.02)" font-size="100" font-weight="bold" fill="#ffb300">G</text>
<text transform="matrix(0.4908 0 0 1.0188 1051.71 700.39)" font-size="100" font-weight="bold" fill="#008000">T</text>
<text transform="matrix(0.4908 0 0 0.3236 1081.39 725.55)" font-size="100" font-weight="bold" fill="#008000">T</text>
<text transform="matrix(0.4283 0 0 1.1041 1080.18 700.97)" font-size="100" font-weight="bold" fill="#ffb300">G</text>
<text transform="matrix(0.1227 0 0 0.0100 1116.32 725.55)" font-size="100" font-weight="bold" fill="#008000" opacity="0.40">T</text>
<text transform="matrix(0.4420 0 0 0.0369 1109.81 724.22)" font-size="100" font-weight="bold" fill="#0000cc" opacity="0.30">C</text>
<text transform="matrix(0.4308 0 0 0.2065 1110.55 721.05)" font-size="100" font-weight="bold" fill="#cc0000">A</text>
<text transform="matrix(0.4283 0 0 0.2337 1109.86 705.88)" font-size="100" font-weight="bold" fill="#ffb300">G</text>
<line x1="843.2" y1="556.84" x2="843.2" y2="726.25" stroke="#333" stroke-width="1.7" stroke-linecap="butt"/>
<line x1="837" y1="725.55" x2="843.2" y2="725.55" stroke="#333" stroke-width="1.4" stroke-linecap="butt"/>
<text class="t" transform="translate(836.2 730.55) scale(0.87 1)" font-size="13.22" text-anchor="end" font-weight="bold" font-style="normal" fill="#000">0</text>
<line x1="837" y1="641.54" x2="843.2" y2="641.54" stroke="#333" stroke-width="1.4" stroke-linecap="butt"/>
<text class="t" transform="translate(836.2 646.54) scale(0.87 1)" font-size="13.22" text-anchor="end" font-weight="bold" font-style="normal" fill="#000">1</text>
<line x1="837" y1="557.54" x2="843.2" y2="557.54" stroke="#333" stroke-width="1.4" stroke-linecap="butt"/>
<text class="t" transform="translate(836.2 562.54) scale(0.87 1)" font-size="13.22" text-anchor="end" font-weight="bold" font-style="normal" fill="#000">2</text>
<text transform="translate(827 641.54) rotate(-90) scale(1 1)" font-size="12" text-anchor="middle" font-weight="bold">bits</text>
<text transform="translate(864.7 727.15) rotate(-90) scale(0.87 1)" font-size="13.3" text-anchor="end" font-weight="bold">1</text>
<text transform="translate(894.38 727.15) rotate(-90) scale(0.87 1)" font-size="13.3" text-anchor="end" font-weight="bold">2</text>
<text transform="translate(924.06 727.15) rotate(-90) scale(0.87 1)" font-size="13.3" text-anchor="end" font-weight="bold">3</text>
<text transform="translate(953.74 727.15) rotate(-90) scale(0.87 1)" font-size="13.3" text-anchor="end" font-weight="bold">4</text>
<text transform="translate(983.42 727.15) rotate(-90) scale(0.87 1)" font-size="13.3" text-anchor="end" font-weight="bold">5</text>
<text transform="translate(1013.1 727.15) rotate(-90) scale(0.87 1)" font-size="13.3" text-anchor="end" font-weight="bold">6</text>
<text transform="translate(1042.78 727.15) rotate(-90) scale(0.87 1)" font-size="13.3" text-anchor="end" font-weight="bold">7</text>
<text transform="translate(1072.46 727.15) rotate(-90) scale(0.87 1)" font-size="13.3" text-anchor="end" font-weight="bold">8</text>
<text transform="translate(1102.14 727.15) rotate(-90) scale(0.87 1)" font-size="13.3" text-anchor="end" font-weight="bold">9</text>
<text transform="translate(1131.82 727.15) rotate(-90) scale(0.87 1)" font-size="13.3" text-anchor="end" font-weight="bold">10</text>
<rect x="939.2" y="769.1" width="166.4" height="212.9" fill="none" stroke="#000" stroke-width="2.4"/>
<rect x="1382.4" y="769.1" width="211.1" height="212.9" fill="none" stroke="#000" stroke-width="2.4"/>
<text transform="matrix(0.4516 0 0 0.0902 841.73 958.97)" font-size="100" font-weight="bold" fill="#cc0000">A</text>
<text transform="matrix(0.4891 0 0 0.2080 843.05 952.76)" font-size="100" font-weight="bold" fill="#008000">T</text>
<text transform="matrix(0.4328 0 0 0.2990 842.07 937.99)" font-size="100" font-weight="bold" fill="#0000cc">C</text>
<text transform="matrix(0.4298 0 0 0.0938 866.14 958.82)" font-size="100" font-weight="bold" fill="#ffb300">G</text>
<text transform="matrix(0.4516 0 0 0.2099 865.23 952.25)" font-size="100" font-weight="bold" fill="#cc0000">A</text>
<text transform="matrix(0.4891 0 0 0.5394 866.55 937.82)" font-size="100" font-weight="bold" fill="#008000">T</text>
<text transform="matrix(0.4891 0 0 0.0368 890.05 958.97)" font-size="100" font-weight="bold" fill="#008000" opacity="0.60">T</text>
<text transform="matrix(0.4298 0 0 0.3007 889.64 955.97)" font-size="100" font-weight="bold" fill="#ffb300">G</text>
<text transform="matrix(0.4328 0 0 0.5714 889.07 934.02)" font-size="100" font-weight="bold" fill="#0000cc">C</text>
<text transform="matrix(0.4516 0 0 0.0258 912.23 958.97)" font-size="100" font-weight="bold" fill="#cc0000" opacity="0.60">A</text>
<text transform="matrix(0.4891 0 0 0.0295 913.55 957.19)" font-size="100" font-weight="bold" fill="#008000" opacity="0.60">T</text>
<text transform="matrix(0.4298 0 0 0.2123 913.14 954.84)" font-size="100" font-weight="bold" fill="#ffb300">G</text>
<text transform="matrix(0.4328 0 0 0.2654 912.57 939.56)" font-size="100" font-weight="bold" fill="#0000cc">C</text>
<text transform="matrix(0.4328 0 0 2.3104 936.07 955.39)" font-size="100" font-weight="bold" fill="#0000cc">C</text>
<text transform="matrix(0.4516 0 0 2.4115 959.23 958.97)" font-size="100" font-weight="bold" fill="#cc0000">A</text>
<text transform="matrix(0.4328 0 0 2.3104 983.07 955.39)" font-size="100" font-weight="bold" fill="#0000cc">C</text>
<text transform="matrix(0.4891 0 0 0.1104 1007.55 958.97)" font-size="100" font-weight="bold" fill="#008000">T</text>
<text transform="matrix(0.4516 0 0 1.8887 1006.23 951.37)" font-size="100" font-weight="bold" fill="#cc0000">A</text>
<text transform="matrix(0.4516 0 0 0.1104 1029.73 958.97)" font-size="100" font-weight="bold" fill="#cc0000">A</text>
<text transform="matrix(0.4298 0 0 1.8045 1030.64 948.57)" font-size="100" font-weight="bold" fill="#ffb300">G</text>
<text transform="matrix(0.4891 0 0 2.4115 1054.55 958.97)" font-size="100" font-weight="bold" fill="#008000">T</text>
<text transform="matrix(0.4516 0 0 0.2025 1076.73 958.97)" font-size="100" font-weight="bold" fill="#cc0000">A</text>
<text transform="matrix(0.4298 0 0 1.4860 1077.64 942.73)" font-size="100" font-weight="bold" fill="#ffb300">G</text>
<text transform="matrix(0.4328 0 0 0.0537 1100.57 958.91)" font-size="100" font-weight="bold" fill="#0000cc" opacity="0.85">C</text>
<text transform="matrix(0.4298 0 0 0.0716 1101.14 955.10)" font-size="100" font-weight="bold" fill="#ffb300">G</text>
<text transform="matrix(0.4891 0 0 0.0920 1101.55 950.10)" font-size="100" font-weight="bold" fill="#008000">T</text>
<text transform="matrix(0.4516 0 0 0.9867 1100.23 943.77)" font-size="100" font-weight="bold" fill="#cc0000">A</text>
<text transform="matrix(0.4328 0 0 0.0608 1124.07 958.91)" font-size="100" font-weight="bold" fill="#0000cc">C</text>
<text transform="matrix(0.4516 0 0 0.2319 1123.73 954.66)" font-size="100" font-weight="bold" fill="#cc0000">A</text>
<text transform="matrix(0.4891 0 0 0.8836 1125.05 938.70)" font-size="100" font-weight="bold" fill="#008000">T</text>
<text transform="matrix(0.4516 0 0 0.5228 1147.23 958.97)" font-size="100" font-weight="bold" fill="#cc0000">A</text>
<text transform="matrix(0.4891 0 0 0.6848 1148.55 923.00)" font-size="100" font-weight="bold" fill="#008000">T</text>
<text transform="matrix(0.4298 0 0 0.0608 1171.64 958.91)" font-size="100" font-weight="bold" fill="#ffb300">G</text>
<text transform="matrix(0.4891 0 0 0.2135 1172.05 954.66)" font-size="100" font-weight="bold" fill="#008000">T</text>
<text transform="matrix(0.4328 0 0 0.8669 1171.07 938.63)" font-size="100" font-weight="bold" fill="#0000cc">C</text>
<text transform="matrix(0.4328 0 0 0.0716 1194.57 958.90)" font-size="100" font-weight="bold" fill="#0000cc">C</text>
<text transform="matrix(0.4298 0 0 0.1663 1195.14 953.64)" font-size="100" font-weight="bold" fill="#ffb300">G</text>
<text transform="matrix(0.4516 0 0 1.1155 1194.23 942.00)" font-size="100" font-weight="bold" fill="#cc0000">A</text>
<text transform="matrix(0.4516 0 0 0.0736 1217.73 958.97)" font-size="100" font-weight="bold" fill="#cc0000">A</text>
<text transform="matrix(0.4328 0 0 0.2654 1218.07 953.49)" font-size="100" font-weight="bold" fill="#0000cc">C</text>
<text transform="matrix(0.4298 0 0 0.3432 1218.64 934.37)" font-size="100" font-weight="bold" fill="#ffb300">G</text>
<text transform="matrix(0.4298 0 0 0.0250 1242.14 958.94)" font-size="100" font-weight="bold" fill="#ffb300" opacity="0.60">G</text>
<text transform="matrix(0.4891 0 0 0.0663 1242.55 957.19)" font-size="100" font-weight="bold" fill="#008000">T</text>
<text transform="matrix(0.4328 0 0 0.1061 1241.57 952.47)" font-size="100" font-weight="bold" fill="#0000cc">C</text>
<text transform="matrix(0.4516 0 0 0.2835 1241.23 945.04)" font-size="100" font-weight="bold" fill="#cc0000">A</text>
<text transform="matrix(0.4516 0 0 0.0258 1264.73 958.97)" font-size="100" font-weight="bold" fill="#cc0000" opacity="0.60">A</text>
<text transform="matrix(0.4298 0 0 0.0358 1265.64 957.16)" font-size="100" font-weight="bold" fill="#ffb300" opacity="0.60">G</text>
<text transform="matrix(0.4891 0 0 0.0663 1266.05 954.66)" font-size="100" font-weight="bold" fill="#008000">T</text>
<text transform="matrix(0.4328 0 0 0.1168 1265.07 949.92)" font-size="100" font-weight="bold" fill="#0000cc">C</text>
<text transform="matrix(0.4891 0 0 0.2099 1289.55 958.97)" font-size="100" font-weight="bold" fill="#008000">T</text>
<text transform="matrix(0.4328 0 0 1.4860 1288.57 942.23)" font-size="100" font-weight="bold" fill="#0000cc">C</text>
<text transform="matrix(0.4891 0 0 0.0184 1313.05 958.97)" font-size="100" font-weight="bold" fill="#008000" opacity="0.40">T</text>
<text transform="matrix(0.4516 0 0 0.0295 1311.73 957.70)" font-size="100" font-weight="bold" fill="#cc0000" opacity="0.60">A</text>
<text transform="matrix(0.4328 0 0 0.0322 1312.07 955.64)" font-size="100" font-weight="bold" fill="#0000cc" opacity="0.60">C</text>
<text transform="matrix(0.4328 0 0 0.0250 1335.57 958.94)" font-size="100" font-weight="bold" fill="#0000cc" opacity="0.60">C</text>
<text transform="matrix(0.4516 0 0 0.0479 1335.23 957.19)" font-size="100" font-weight="bold" fill="#cc0000" opacity="0.85">A</text>
<text transform="matrix(0.4891 0 0 0.1362 1336.55 953.90)" font-size="100" font-weight="bold" fill="#008000">T</text>
<text transform="matrix(0.4298 0 0 0.1628 1336.14 944.28)" font-size="100" font-weight="bold" fill="#ffb300">G</text>
<text transform="matrix(0.4298 0 0 0.0680 1359.64 958.90)" font-size="100" font-weight="bold" fill="#ffb300">G</text>
<text transform="matrix(0.4516 0 0 0.2209 1358.73 954.15)" font-size="100" font-weight="bold" fill="#cc0000">A</text>
<text transform="matrix(0.4891 0 0 0.2614 1360.05 938.96)" font-size="100" font-weight="bold" fill="#008000">T</text>
<text transform="matrix(0.4298 0 0 0.0465 1383.14 958.92)" font-size="100" font-weight="bold" fill="#ffb300" opacity="0.85">G</text>
<text transform="matrix(0.4891 0 0 0.0331 1383.55 955.67)" font-size="100" font-weight="bold" fill="#008000" opacity="0.60">T</text>
<text transform="matrix(0.4328 0 0 0.0955 1382.57 953.25)" font-size="100" font-weight="bold" fill="#0000cc">C</text>
<text transform="matrix(0.4516 0 0 0.2209 1382.23 946.56)" font-size="100" font-weight="bold" fill="#cc0000">A</text>
<text transform="matrix(0.4891 0 0 0.2761 1407.05 958.97)" font-size="100" font-weight="bold" fill="#008000">T</text>
<text transform="matrix(0.4328 0 0 1.2454 1406.07 938.04)" font-size="100" font-weight="bold" fill="#0000cc">C</text>
<text transform="matrix(0.4328 0 0 0.1238 1429.57 958.77)" font-size="100" font-weight="bold" fill="#0000cc">C</text>
<text transform="matrix(0.4891 0 0 0.1657 1430.55 950.10)" font-size="100" font-weight="bold" fill="#008000">T</text>
<text transform="matrix(0.4516 0 0 0.3866 1429.23 938.70)" font-size="100" font-weight="bold" fill="#cc0000">A</text>
<text transform="matrix(0.4891 0 0 0.0700 1454.05 958.97)" font-size="100" font-weight="bold" fill="#008000">T</text>
<text transform="matrix(0.4328 0 0 0.2052 1453.07 953.84)" font-size="100" font-weight="bold" fill="#0000cc">C</text>
<text transform="matrix(0.4516 0 0 0.8946 1452.73 939.46)" font-size="100" font-weight="bold" fill="#cc0000">A</text>
<text transform="matrix(0.4891 0 0 0.1104 1477.55 958.97)" font-size="100" font-weight="bold" fill="#008000">T</text>
<text transform="matrix(0.4328 0 0 0.1769 1476.57 951.09)" font-size="100" font-weight="bold" fill="#0000cc">C</text>
<text transform="matrix(0.4516 0 0 0.6627 1476.23 938.70)" font-size="100" font-weight="bold" fill="#cc0000">A</text>
<text transform="matrix(0.4328 0 0 0.1946 1500.07 958.67)" font-size="100" font-weight="bold" fill="#0000cc">C</text>
<text transform="matrix(0.4516 0 0 1.5537 1499.73 945.04)" font-size="100" font-weight="bold" fill="#cc0000">A</text>
<text transform="matrix(0.4891 0 0 0.0589 1524.55 958.97)" font-size="100" font-weight="bold" fill="#008000">T</text>
<text transform="matrix(0.4328 0 0 0.2158 1523.57 954.58)" font-size="100" font-weight="bold" fill="#0000cc">C</text>
<text transform="matrix(0.4516 0 0 0.8946 1523.23 939.46)" font-size="100" font-weight="bold" fill="#cc0000">A</text>
<text transform="matrix(0.4891 0 0 0.0884 1548.05 958.97)" font-size="100" font-weight="bold" fill="#008000">T</text>
<text transform="matrix(0.4298 0 0 0.1981 1547.64 952.58)" font-size="100" font-weight="bold" fill="#ffb300">G</text>
<text transform="matrix(0.4328 0 0 0.5201 1547.07 937.90)" font-size="100" font-weight="bold" fill="#0000cc">C</text>
<text transform="matrix(0.4298 0 0 0.0179 1571.14 958.95)" font-size="100" font-weight="bold" fill="#ffb300" opacity="0.40">G</text>
<text transform="matrix(0.4891 0 0 0.0368 1571.55 957.70)" font-size="100" font-weight="bold" fill="#008000" opacity="0.60">T</text>
<text transform="matrix(0.4516 0 0 0.1104 1570.23 955.17)" font-size="100" font-weight="bold" fill="#cc0000">A</text>
<text transform="matrix(0.4328 0 0 0.1663 1570.57 947.31)" font-size="100" font-weight="bold" fill="#0000cc">C</text>
<text transform="matrix(0.4516 0 0 0.0184 1593.73 958.97)" font-size="100" font-weight="bold" fill="#cc0000" opacity="0.40">A</text>
<text transform="matrix(0.4298 0 0 0.0179 1594.64 957.68)" font-size="100" font-weight="bold" fill="#ffb300" opacity="0.40">G</text>
<text transform="matrix(0.4891 0 0 0.2467 1595.05 956.43)" font-size="100" font-weight="bold" fill="#008000">T</text>
<text transform="matrix(0.4328 0 0 0.2583 1594.07 939.06)" font-size="100" font-weight="bold" fill="#0000cc">C</text>
<text transform="matrix(0.4516 0 0 0.1289 1617.23 958.97)" font-size="100" font-weight="bold" fill="#cc0000">A</text>
<text transform="matrix(0.4891 0 0 0.1657 1618.55 950.10)" font-size="100" font-weight="bold" fill="#008000">T</text>
<text transform="matrix(0.4328 0 0 0.3786 1617.57 938.12)" font-size="100" font-weight="bold" fill="#0000cc">C</text>
<text transform="matrix(0.4298 0 0 0.0250 1641.64 958.94)" font-size="100" font-weight="bold" fill="#ffb300" opacity="0.60">G</text>
<text transform="matrix(0.4516 0 0 0.0479 1640.73 957.19)" font-size="100" font-weight="bold" fill="#cc0000" opacity="0.85">A</text>
<text transform="matrix(0.4891 0 0 0.1362 1642.05 953.90)" font-size="100" font-weight="bold" fill="#008000">T</text>
<text transform="matrix(0.4328 0 0 0.2583 1641.07 944.13)" font-size="100" font-weight="bold" fill="#0000cc">C</text>
<line x1="841.8" y1="790.59" x2="841.8" y2="959.67" stroke="#555" stroke-width="1.7" stroke-linecap="butt"/>
<line x1="835.6" y1="958.97" x2="841.8" y2="958.97" stroke="#555" stroke-width="1.4" stroke-linecap="butt"/>
<text class="t" transform="translate(835.4 963.97) scale(0.87 1)" font-size="13.22" text-anchor="end" font-weight="bold" font-style="normal" fill="#000">0</text>
<line x1="835.6" y1="875.13" x2="841.8" y2="875.13" stroke="#555" stroke-width="1.4" stroke-linecap="butt"/>
<text class="t" transform="translate(835.4 880.13) scale(0.87 1)" font-size="13.22" text-anchor="end" font-weight="bold" font-style="normal" fill="#000">1</text>
<line x1="835.6" y1="791.29" x2="841.8" y2="791.29" stroke="#555" stroke-width="1.4" stroke-linecap="butt"/>
<text class="t" transform="translate(835.4 796.29) scale(0.87 1)" font-size="13.22" text-anchor="end" font-weight="bold" font-style="normal" fill="#000">2</text>
<text transform="translate(825.5 875.13) rotate(-90) scale(1 1)" font-size="12" text-anchor="middle" font-weight="bold">bits</text>
<text transform="translate(860.2 960.57) rotate(-90) scale(0.87 1)" font-size="13.3" text-anchor="end" font-weight="bold">1</text>
<text transform="translate(883.7 960.57) rotate(-90) scale(0.87 1)" font-size="13.3" text-anchor="end" font-weight="bold">2</text>
<text transform="translate(907.2 960.57) rotate(-90) scale(0.87 1)" font-size="13.3" text-anchor="end" font-weight="bold">3</text>
<text transform="translate(930.7 960.57) rotate(-90) scale(0.87 1)" font-size="13.3" text-anchor="end" font-weight="bold">4</text>
<text transform="translate(954.2 960.57) rotate(-90) scale(0.87 1)" font-size="13.3" text-anchor="end" font-weight="bold">5</text>
<text transform="translate(977.7 960.57) rotate(-90) scale(0.87 1)" font-size="13.3" text-anchor="end" font-weight="bold">6</text>
<text transform="translate(1001.2 960.57) rotate(-90) scale(0.87 1)" font-size="13.3" text-anchor="end" font-weight="bold">7</text>
<text transform="translate(1024.7 960.57) rotate(-90) scale(0.87 1)" font-size="13.3" text-anchor="end" font-weight="bold">8</text>
<text transform="translate(1048.2 960.57) rotate(-90) scale(0.87 1)" font-size="13.3" text-anchor="end" font-weight="bold">9</text>
<text transform="translate(1071.7 960.57) rotate(-90) scale(0.87 1)" font-size="13.3" text-anchor="end" font-weight="bold">10</text>
<text transform="translate(1095.2 960.57) rotate(-90) scale(0.87 1)" font-size="13.3" text-anchor="end" font-weight="bold">11</text>
<text transform="translate(1118.7 960.57) rotate(-90) scale(0.87 1)" font-size="13.3" text-anchor="end" font-weight="bold">12</text>
<text transform="translate(1142.2 960.57) rotate(-90) scale(0.87 1)" font-size="13.3" text-anchor="end" font-weight="bold">13</text>
<text transform="translate(1165.7 960.57) rotate(-90) scale(0.87 1)" font-size="13.3" text-anchor="end" font-weight="bold">14</text>
<text transform="translate(1189.2 960.57) rotate(-90) scale(0.87 1)" font-size="13.3" text-anchor="end" font-weight="bold">15</text>
<text transform="translate(1212.7 960.57) rotate(-90) scale(0.87 1)" font-size="13.3" text-anchor="end" font-weight="bold">16</text>
<text transform="translate(1236.2 960.57) rotate(-90) scale(0.87 1)" font-size="13.3" text-anchor="end" font-weight="bold">17</text>
<text transform="translate(1259.7 960.57) rotate(-90) scale(0.87 1)" font-size="13.3" text-anchor="end" font-weight="bold">18</text>
<text transform="translate(1283.2 960.57) rotate(-90) scale(0.87 1)" font-size="13.3" text-anchor="end" font-weight="bold">19</text>
<text transform="translate(1306.7 960.57) rotate(-90) scale(0.87 1)" font-size="13.3" text-anchor="end" font-weight="bold">20</text>
<text transform="translate(1330.2 960.57) rotate(-90) scale(0.87 1)" font-size="13.3" text-anchor="end" font-weight="bold">21</text>
<text transform="translate(1353.7 960.57) rotate(-90) scale(0.87 1)" font-size="13.3" text-anchor="end" font-weight="bold">22</text>
<text transform="translate(1377.2 960.57) rotate(-90) scale(0.87 1)" font-size="13.3" text-anchor="end" font-weight="bold">23</text>
<text transform="translate(1400.7 960.57) rotate(-90) scale(0.87 1)" font-size="13.3" text-anchor="end" font-weight="bold">24</text>
<text transform="translate(1424.2 960.57) rotate(-90) scale(0.87 1)" font-size="13.3" text-anchor="end" font-weight="bold">25</text>
<text transform="translate(1447.7 960.57) rotate(-90) scale(0.87 1)" font-size="13.3" text-anchor="end" font-weight="bold">26</text>
<text transform="translate(1471.2 960.57) rotate(-90) scale(0.87 1)" font-size="13.3" text-anchor="end" font-weight="bold">27</text>
<text transform="translate(1494.7 960.57) rotate(-90) scale(0.87 1)" font-size="13.3" text-anchor="end" font-weight="bold">28</text>
<text transform="translate(1518.2 960.57) rotate(-90) scale(0.87 1)" font-size="13.3" text-anchor="end" font-weight="bold">29</text>
<text transform="translate(1541.7 960.57) rotate(-90) scale(0.87 1)" font-size="13.3" text-anchor="end" font-weight="bold">30</text>
<text transform="translate(1565.2 960.57) rotate(-90) scale(0.87 1)" font-size="13.3" text-anchor="end" font-weight="bold">31</text>
<text transform="translate(1588.7 960.57) rotate(-90) scale(0.87 1)" font-size="13.3" text-anchor="end" font-weight="bold">32</text>
<text transform="translate(1612.2 960.57) rotate(-90) scale(0.87 1)" font-size="13.3" text-anchor="end" font-weight="bold">33</text>
<text transform="translate(1635.7 960.57) rotate(-90) scale(0.87 1)" font-size="13.3" text-anchor="end" font-weight="bold">34</text>
<text transform="translate(1659.2 960.57) rotate(-90) scale(0.87 1)" font-size="13.3" text-anchor="end" font-weight="bold">35</text>
<text x="1671.5" y="983.4" font-size="6.2" text-anchor="end" font-weight="normal" font-style="normal" fill="#222">MEME (no SSC) 28.01.2020 09:19</text>
<text transform="matrix(0.8361 0 0 1.0001 -0.58 36.03)" font-size="48" font-weight="bold">a</text>
<text transform="matrix(0.9716 0 0 1.0525 773.93 36.21)" font-size="48" font-weight="bold">b</text>
<text transform="matrix(0.8243 0 0 0.9811 -0.85 559.34)" font-size="48" font-weight="bold">c</text>
<text transform="matrix(0.9550 0 0 1.0355 774.02 589.91)" font-size="48" font-weight="bold">d</text>
<text transform="matrix(0.9879 0 0 0.9811 774.05 838.24)" font-size="48" font-weight="bold">e</text>
</svg>
</body></html>
